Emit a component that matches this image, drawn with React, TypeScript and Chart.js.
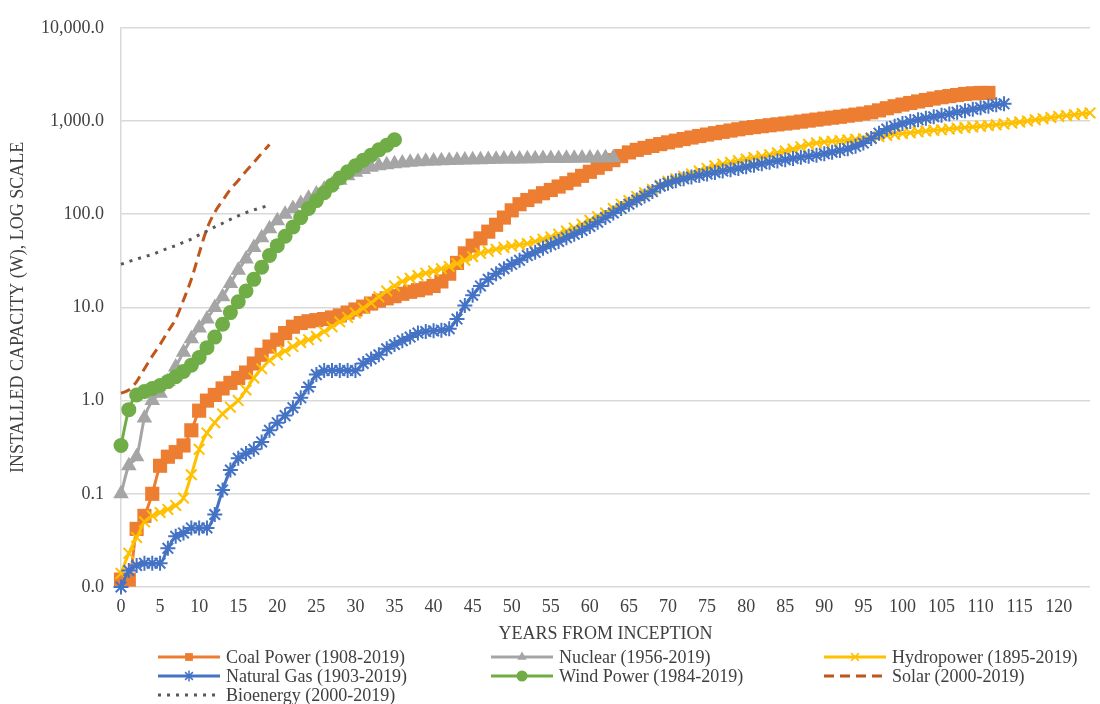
import React, { useEffect, useRef } from 'react';
import { Chart, registerables } from 'chart.js';

Chart.register(...registerables);

// ---------- data ----------
const COAL = [
  0.012, 0.012, 0.042, 0.058, 0.1, 0.2, 0.25, 0.28, 0.33, 0.48,
  0.78, 1.0, 1.15, 1.35, 1.55, 1.75, 2.0, 2.5, 3.1, 3.8,
  4.5, 5.3, 6.2, 6.8, 7.1, 7.3, 7.5, 7.8, 8.2, 8.8,
  9.5, 10.2, 11, 11.8, 12.5, 13.2, 14, 14.7, 15.3, 16,
  17, 19, 23, 30, 38, 46, 55, 65, 77, 92,
  110, 128, 142, 155, 168, 182, 198, 215, 235, 258,
  285, 315, 345, 380, 420, 460, 490, 515, 540, 565,
  590, 615, 640, 665, 690, 715, 740, 765, 790, 815,
  840, 860, 880, 900, 920, 940, 960, 985, 1010, 1035,
  1060, 1085, 1110, 1140, 1170, 1200, 1240, 1300, 1370, 1440,
  1500, 1560, 1620, 1680, 1740, 1800, 1850, 1900, 1950, 1980,
  2000, 2000,
];
const NUCLEAR = [
  0.1, 0.2, 0.25, 0.65, 1.0, 1.2, 1.6, 2.3, 3.3, 4.6,
  6.0, 7.5, 10, 13, 18, 25, 33, 44, 56, 70,
  85, 100, 115, 130, 148, 165, 185, 208, 232, 258,
  282, 302, 318, 330, 340, 348, 355, 360, 365, 369,
  372, 375, 377, 379, 381, 383, 385, 387, 389, 390,
  391, 392, 393, 394, 395, 396, 397, 398, 399, 400,
  401, 402, 403, 404,
];
const HYDRO = [
  0.014, 0.023, 0.034, 0.05, 0.058, 0.063, 0.068, 0.075, 0.09, 0.16,
  0.3, 0.45, 0.58, 0.72, 0.85, 1.0, 1.3, 1.75, 2.2, 2.7,
  3.1, 3.4, 3.8, 4.2, 4.5, 4.9, 5.5, 6.2, 7.0, 7.8,
  8.7, 9.8, 11.2, 13, 15, 17, 19, 20.5, 22, 23.3,
  24.5, 26, 27.5, 29.5, 32, 35, 38, 40, 42, 44,
  45.5, 47, 48.5, 51, 54, 57, 61, 66, 71, 78,
  86, 94, 103, 115, 128, 140, 155, 170, 185, 205,
  225, 240, 255, 270, 290, 310, 330, 345, 360, 375,
  390, 405, 418, 435, 455, 475, 500, 530, 560, 580,
  595, 605, 615, 625, 635, 645, 660, 680, 700, 720,
  735, 750, 765, 780, 795, 805, 820, 835, 850, 865,
  880, 895, 910, 930, 950, 975, 1000, 1030, 1060, 1090,
  1120, 1145, 1170, 1200, 1220,
];
const GAS = [
  0.01, 0.015, 0.017, 0.018, 0.018, 0.018, 0.026, 0.035, 0.038, 0.043,
  0.043, 0.043, 0.06, 0.11, 0.18, 0.24, 0.27, 0.3, 0.36, 0.48,
  0.58, 0.69, 0.84, 1.07, 1.4, 1.9, 2.1, 2.1, 2.1, 2.1,
  2.1, 2.5, 2.8, 3.1, 3.6, 4.0, 4.4, 4.8, 5.3, 5.5,
  5.6, 5.7, 5.9, 7.5, 10.5, 13.5, 17, 20, 23, 26,
  29, 32, 36, 39, 43, 47, 51, 56, 61, 67,
  74, 82, 92, 103, 115, 128, 142, 157, 175, 200,
  215, 228, 240, 250, 260, 270, 280, 290, 300, 310,
  322, 335, 348, 360, 372, 384, 396, 408, 418, 430,
  445, 462, 482, 505, 535, 580, 650, 740, 820, 880,
  940, 990, 1030, 1070, 1110, 1150, 1190, 1240, 1290, 1340,
  1390, 1440, 1490, 1530,
];
const WIND = [
  0.33, 0.8, 1.15, 1.25, 1.35, 1.45, 1.6, 1.8, 2.05, 2.4,
  2.9, 3.7, 4.8, 6.6, 8.8, 11.5, 15, 20, 27, 36,
  46, 58, 73, 92, 115, 140, 170, 205, 245, 285,
  330, 380, 430, 490, 550, 630,
];
const SOLAR = [
  1.2, 1.3, 1.6, 2.2, 3.0, 4.0, 5.5, 7.5, 12, 20,
  38, 70, 105, 140, 185, 230, 290, 360, 450, 560,
];
const BIO = [
  29, 31, 33, 35, 37, 40, 43, 46, 50, 54,
  60, 66, 73, 80, 88, 96, 104, 111, 118, 125,
];

const SERIES_NAMES = [
  'Coal Power (1908-2019)',
  'Nuclear (1956-2019)',
  'Hydropower (1895-2019)',
  'Natural Gas (1903-2019)',
  'Wind Power (1984-2019)',
  'Solar (2000-2019)',
  'Bioenergy (2000-2019)',
];

const Y_TICK_VALUES = [0.01, 0.1, 1, 10, 100, 1000, 10000];
const Y_TICK_LABELS = ['0.0', '0.1', '1.0', '10.0', '100.0', '1,000.0', '10,000.0'];
const X_TICK_VALUES = [0, 5, 10, 15, 20, 25, 30, 35, 40, 45, 50, 55, 60, 65, 70, 75, 80, 85, 90, 95, 100, 105, 110, 115, 120];

const X_TITLE = 'YEARS FROM INCEPTION';
const Y_TITLE = 'INSTALLED CAPACITY (W), LOG SCALE';

// ---------- styles ----------
const FONT_FAMILY = "'Liberation Serif', 'Times New Roman', serif";
const TEXT_COLOR = '#404040';
const GRID_COLOR = '#D9D9D9';

const toPoints = (arr: number[]) => arr.map((v, i) => ({ x: i, y: v }));

function drawMarker(ctx: CanvasRenderingContext2D, style: string, x: number, y: number, r: number, color: string) {
  ctx.save();
  ctx.fillStyle = color;
  ctx.strokeStyle = color;
  ctx.lineWidth = 1.5;
  ctx.setLineDash([]);
  ctx.beginPath();
  if (style === 'rect') {
    const s = r * Math.SQRT1_2;
    ctx.rect(x - s, y - s, 2 * s, 2 * s);
    ctx.fill();
  } else if (style === 'triangle') {
    ctx.moveTo(x, y - r);
    ctx.lineTo(x + r * 0.866, y + r * 0.5);
    ctx.lineTo(x - r * 0.866, y + r * 0.5);
    ctx.closePath();
    ctx.fill();
  } else if (style === 'circle') {
    ctx.arc(x, y, r, 0, Math.PI * 2);
    ctx.fill();
  } else if (style === 'star' || style === 'crossRot') {
    const d = r * Math.SQRT1_2;
    ctx.moveTo(x - d, y - d); ctx.lineTo(x + d, y + d);
    ctx.moveTo(x - d, y + d); ctx.lineTo(x + d, y - d);
    if (style === 'star') {
      ctx.moveTo(x, y - r); ctx.lineTo(x, y + r);
      ctx.moveTo(x - r, y); ctx.lineTo(x + r, y);
    }
    ctx.stroke();
  }
  ctx.restore();
}

const gridLegend = {
  id: 'gridLegend',
  afterDraw(chart: any) {
    const ctx: CanvasRenderingContext2D = chart.ctx;
    const colX = [158, 491, 824];
    const rowY = [657, 676, 695];
    const lineLen = 62;
    chart.data.datasets.forEach((ds: any, i: number) => {
      const col = i % 3;
      const row = Math.floor(i / 3);
      const x0 = colX[col];
      const y = rowY[row];
      ctx.save();
      ctx.strokeStyle = ds.borderColor;
      ctx.lineWidth = 3;
      ctx.setLineDash(ds.borderDash || []);
      ctx.lineCap = 'butt';
      ctx.beginPath();
      ctx.moveTo(x0, y);
      ctx.lineTo(x0 + lineLen, y);
      ctx.stroke();
      ctx.restore();
      if (ds.pointRadius > 0) {
        drawMarker(ctx, ds.pointStyle, x0 + lineLen / 2, y, 5.5, ds.pointBackgroundColor);
      }
      ctx.save();
      ctx.fillStyle = TEXT_COLOR;
      ctx.font = `18px ${FONT_FAMILY}`;
      ctx.textBaseline = 'middle';
      ctx.textAlign = 'left';
      ctx.fillText(ds.label, x0 + lineLen + 6, y + 1);
      ctx.restore();
    });
  },
};

function markerSeries(label: string, data: number[], color: string, style: string, radius: number, order: number) {
  const isLineMarker = style === 'star' || style === 'crossRot';
  return {
    label,
    data: toPoints(data),
    borderColor: color,
    backgroundColor: color,
    borderWidth: 3,
    pointStyle: style,
    pointRadius: radius,
    pointBackgroundColor: color,
    pointBorderColor: color,
    pointBorderWidth: isLineMarker ? 2 : 0,
    pointHoverRadius: radius,
    cubicInterpolationMode: 'monotone',
    clip: false,
    order,
  };
}

function plainSeries(label: string, data: number[], color: string, dash: number[], order: number) {
  return {
    label,
    data: toPoints(data),
    borderColor: color,
    backgroundColor: color,
    borderWidth: 3,
    borderDash: dash,
    pointRadius: 0,
    pointHoverRadius: 0,
    cubicInterpolationMode: 'monotone',
    clip: false,
    order,
  };
}

export default function App() {
  const canvasRef = useRef<HTMLCanvasElement | null>(null);

  useEffect(() => {
    if (!canvasRef.current) return;
    const datasets: any[] = [
      markerSeries(SERIES_NAMES[0], COAL, '#ED7D31', 'rect', 10, 7),
      markerSeries(SERIES_NAMES[1], NUCLEAR, '#A5A5A5', 'triangle', 9, 6),
      markerSeries(SERIES_NAMES[2], HYDRO, '#FFC000', 'crossRot', 7.5, 5),
      markerSeries(SERIES_NAMES[3], GAS, '#4472C4', 'star', 7.5, 4),
      markerSeries(SERIES_NAMES[4], WIND, '#70AD47', 'circle', 7.5, 3),
      plainSeries(SERIES_NAMES[5], SOLAR, '#C0561A', [10, 6], 2),
      plainSeries(SERIES_NAMES[6], BIO, '#595959', [3, 6], 1),
    ];

    const chart = new Chart(canvasRef.current, {
      type: 'line',
      data: { datasets },
      options: {
        animation: false,
        responsive: true,
        maintainAspectRatio: false,
        layout: { padding: { left: 0, top: 21, right: 2, bottom: 59 } },
        plugins: {
          legend: { display: false },
          tooltip: { enabled: false },
        },
        scales: {
          x: {
            type: 'linear',
            min: 0,
            max: 124,
            afterBuildTicks: (scale: any) => {
              scale.ticks = X_TICK_VALUES.map((v) => ({ value: v }));
            },
            afterFit: (scale: any) => {
              scale.height = 58;
            },
            grid: { display: false, drawTicks: false },
            border: { display: false },
            ticks: {
              autoSkip: false,
              maxRotation: 0,
              padding: 9,
              color: TEXT_COLOR,
              font: { family: FONT_FAMILY, size: 18 },
              callback: (v: any) => String(v),
            },
            title: {
              display: true,
              text: X_TITLE,
              color: TEXT_COLOR,
              font: { family: FONT_FAMILY, size: 18 },
              padding: { top: 0, bottom: 0 },
            },
          },
          y: {
            type: 'logarithmic',
            min: 0.01,
            max: 10000,
            afterBuildTicks: (scale: any) => {
              scale.ticks = Y_TICK_VALUES.map((v) => ({ value: v }));
            },
            afterFit: (scale: any) => {
              scale.width = 121;
            },
            grid: { color: GRID_COLOR, lineWidth: 1.5, drawTicks: false, tickLength: 0 },
            border: { display: true, color: GRID_COLOR, width: 1.5 },
            ticks: {
              autoSkip: false,
              padding: 17,
              color: TEXT_COLOR,
              font: { family: FONT_FAMILY, size: 18 },
              callback: (v: any) => {
                const idx = Y_TICK_VALUES.findIndex((t) => Math.abs(t - Number(v)) < t * 1e-6);
                return idx >= 0 ? Y_TICK_LABELS[idx] : '';
              },
            },
            title: {
              display: true,
              text: Y_TITLE,
              color: TEXT_COLOR,
              font: { family: FONT_FAMILY, size: 18 },
              padding: { top: 7, bottom: 0 },
            },
          },
        },
      } as any,
      plugins: [gridLegend],
    });

    return () => chart.destroy();
  }, []);

  return (
    <div style={{ position: 'fixed', left: 0, top: 0, width: 1100, height: 704, background: '#fff' }}>
      <canvas ref={canvasRef} />
    </div>
  );
}
